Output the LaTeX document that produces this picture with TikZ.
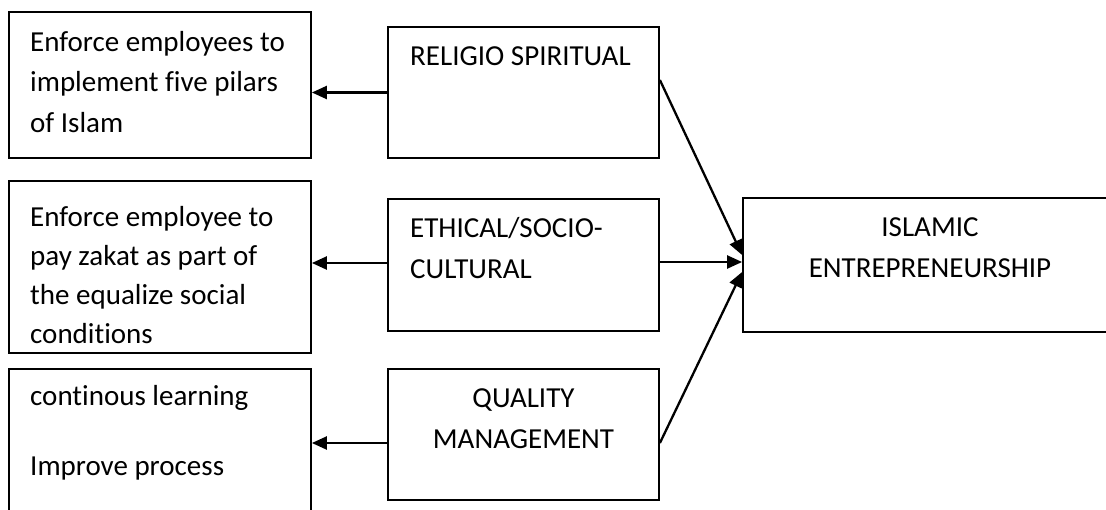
\documentclass[tikz,border=0pt]{standalone}
\usepackage{fontspec}
\setmainfont{Carlito}[RawFeature={-liga;-clig;-calt}]
\usetikzlibrary{arrows.meta}
\begin{document}
\begin{tikzpicture}[x=1pt,y=-1pt,
  box/.style={draw=black,line width=1.8pt,minimum width=#1,inner sep=0pt},
  txt/.style={inner sep=0pt,font=\fontsize{29}{40.5}\selectfont},
  conn/.style={line width=2.3pt,-{Triangle[length=15pt,width=13pt]}}]
\clip (0,0) rectangle (1106,509);
\fill[white] (0,0) rectangle (1106,509);
% boxes
\node[box=302pt,minimum height=146pt] (l1) at (160,85) {};
\node[box=302pt,minimum height=172pt] (l2) at (160,267) {};
\node[box=302pt,minimum height=171pt] (l3) at (160,454.5) {};
\node[box=271pt,minimum height=131pt] (m1) at (523.5,92.5) {};
\node[box=271pt,minimum height=132pt] (m2) at (523.5,265) {};
\node[box=271pt,minimum height=131pt] (m3) at (523.5,434.5) {};
\node[box=374pt,minimum height=134pt] (r) at (930,265) {};
% texts (base anchor = baseline of last line)
\node[txt,anchor=base west,align=left] (t1) at (30,132) {Enforce employees to\\implement five pilars\\of Islam};
\node[txt,anchor=base west,align=left,font=\fontsize{29}{39}\selectfont] (t2) at (30,343) {Enforce employee to\\pay zakat as part of\\the equalize social\\conditions};
\node[txt,anchor=base west,align=left,font=\fontsize{29}{70}\selectfont] (t3) at (30,475) {continous learning\\Improve process};
\node[txt,anchor=base west] (t4) at (410,65) {RELIGIO SPIRITUAL};
\node[txt,anchor=base west,align=left] (t5) at (410,278) {ETHICAL/SOCIO-\\CULTURAL};
\node[txt,anchor=base,align=center] (t6) at (523.5,448) {QUALITY\\MANAGEMENT};
\node[txt,anchor=base,align=center] (t7) at (930,277) {ISLAMIC\\ENTREPRENEURSHIP};
% connector end points
\coordinate (a2) at ([yshift=2pt]m2.west);
\coordinate (a3) at ([yshift=-8.5pt]m3.west);
\coordinate (b1) at ([yshift=12.5pt]m1.east);
\coordinate (b2) at ([yshift=3pt]m2.east);
\coordinate (b3) at ([yshift=-8.5pt]m3.east);
\coordinate (c1) at ([yshift=10pt]r.west);
\coordinate (c2) at ([yshift=3pt]r.west);
\coordinate (c3) at ([yshift=-7pt]r.west);
% connectors
\draw[conn] (m1.west) -- (l1.east |- m1.west);
\draw[conn] (a2) -- (l2.east |- a2);
\draw[conn] (a3) -- (l3.east |- a3);
\draw[conn] (b1) -- (c1);
\draw[conn] (b2) -- (c2);
\draw[conn] (b3) -- (c3);
\end{tikzpicture}
\end{document}
